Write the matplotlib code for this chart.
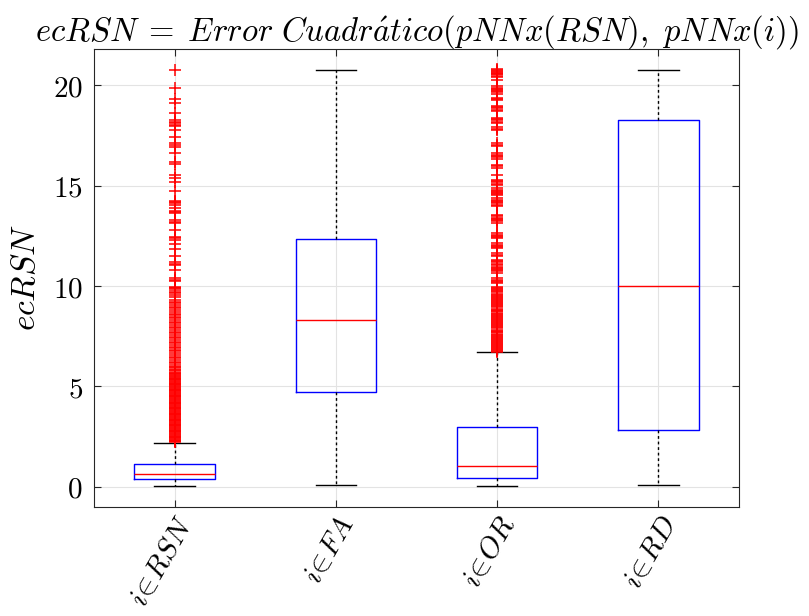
import matplotlib
matplotlib.use('Agg')
import matplotlib.pyplot as plt

plt.rcParams['mathtext.fontset'] = 'cm'

grupos = [r'$i\!\in\! RSN$', r'$i\!\in\! FA$', r'$i\!\in\! OR$', r'$i\!\in\! RD$']

# estadisticos de cada caja
medianas = [0.65, 8.31, 1.04, 10.02]
q1 = [0.38, 4.71, 0.46, 2.82]
q3 = [1.13, 12.35, 2.97, 18.26]
bigote_inf = [0.03, 0.08, 0.03, 0.10]
bigote_sup = [2.19, 20.73, 6.70, 20.73]

# valores atipicos
atip_rsn = [20.73, 19.87, 19.29, 19.09, 18.61, 18.24, 18.16, 18.09, 18.02, 17.96,
            17.76, 17.43, 17.10, 17.02, 16.93, 16.60, 16.17, 16.05, 15.52, 15.36,
            15.19, 14.74, 14.23, 14.17, 14.11, 14.03, 13.86, 13.75, 13.70, 13.62,
            13.28, 13.20, 13.12, 12.79, 12.45, 12.37, 12.29, 12.09, 11.83, 11.49,
            11.18, 11.10, 11.04, 10.80, 10.38, 10.32, 10.26, 9.97, 9.92, 9.88,
            9.80, 9.72, 9.64, 9.55, 9.47, 9.30, 9.22, 9.14, 9.05, 8.97, 8.89,
            8.80, 8.72, 8.60, 8.55, 8.47, 8.39, 8.31, 8.22, 8.14, 8.06, 7.98,
            7.90, 7.81, 7.72, 7.65, 7.56, 7.48, 7.40, 7.31, 7.23, 7.15, 7.07,
            6.98, 6.90, 6.82, 6.74, 6.65, 6.57, 6.48, 6.40, 6.31, 6.23, 6.15,
            6.07, 5.99, 5.96, 5.88, 5.82, 5.75, 5.69, 5.65, 5.61,
            5.56, 5.52, 5.48, 5.44, 5.39, 5.35, 5.31, 5.27, 5.22, 5.18, 5.14,
            5.10, 5.05, 5.01, 4.97, 4.93, 4.88, 4.84, 4.80, 4.76, 4.71, 4.67,
            4.63, 4.59, 4.54, 4.50, 4.46, 4.42, 4.37, 4.33, 4.29, 4.25, 4.20,
            4.16, 4.12, 4.08, 4.03, 3.99, 3.95, 3.91, 3.86, 3.82, 3.78, 3.74,
            3.69, 3.65, 3.61, 3.57, 3.52, 3.48, 3.44, 3.40, 3.35, 3.31, 3.27,
            3.23, 3.18, 3.14, 3.10, 3.06, 3.01, 2.97, 2.93, 2.89, 2.84, 2.80,
            2.76, 2.72, 2.67, 2.63, 2.59, 2.55, 2.50, 2.46, 2.42, 2.38, 2.33,
            2.29, 2.26, 2.22]
atip_fa = []
atip_or = [20.78, 20.74, 20.70, 20.66, 20.61, 20.57, 20.53, 20.47, 20.42, 20.28,
           19.95, 19.88, 19.82, 19.76, 19.70, 19.64, 19.58, 19.37, 19.31, 19.25,
           18.95, 18.90, 18.84, 18.78, 18.71, 18.38, 18.32, 18.26, 18.18, 18.09,
           17.90, 17.83, 17.76, 17.10, 17.03, 16.97, 16.60, 16.53, 16.47, 16.40,
           16.32, 16.02, 15.95, 15.89, 15.52, 15.28, 15.22, 15.16, 15.09, 15.03,
           14.86, 14.80, 14.74, 14.68, 14.61, 14.57, 14.53, 14.36, 14.30, 14.24,
           14.17, 14.11, 14.05, 13.99, 13.53, 13.47, 13.41, 13.35, 13.28, 13.22,
           13.16, 12.62, 12.56, 12.50, 12.43, 12.37, 12.12, 12.05, 11.99, 11.93,
           11.87, 11.62, 11.56, 11.49, 11.29, 11.23, 11.18, 11.11, 11.04, 10.97,
           10.91, 10.85, 10.80, 10.73, 10.66, 10.38, 10.32, 10.26, 10.19, 10.13,
           9.95, 9.88, 9.83, 9.78, 9.73, 9.69, 9.62, 9.57, 9.51, 9.46, 9.41, 9.37,
           9.30, 9.25, 9.20, 9.16, 9.10, 9.04, 8.99, 8.95, 8.88, 8.83, 8.78,
           8.74, 8.67, 8.62, 8.57, 8.53, 8.46, 8.41, 8.36, 8.32, 8.25, 8.20,
           8.15, 8.11, 8.04, 7.99, 7.94, 7.90, 7.83, 7.78, 7.73, 7.69, 7.62,
           7.57, 7.52, 7.48, 7.41, 7.36, 7.31, 7.27, 7.20, 7.15, 7.10, 7.06,
           7.00, 6.94, 6.89, 6.85, 6.80, 6.76, 6.72]
atip_rd = []

atipicos = [atip_rsn, atip_fa, atip_or, atip_rd]

stats = []
for k in range(4):
    stats.append({'med': medianas[k], 'q1': q1[k], 'q3': q3[k],
                  'whislo': bigote_inf[k], 'whishi': bigote_sup[k],
                  'fliers': atipicos[k], 'label': grupos[k]})

fig = plt.figure(figsize=(8.09, 6.16), dpi=100)
ax = fig.add_axes([0.1162, 0.177, 0.7973, 0.7435])

ax.bxp(stats, positions=[1, 2, 3, 4], widths=0.5,
       boxprops=dict(color='blue', linewidth=1.0),
       medianprops=dict(color='red', linewidth=1.0),
       whiskerprops=dict(color='black', linewidth=1.0, linestyle=(0, (2, 2))),
       capprops=dict(color='black', linewidth=1.0),
       flierprops=dict(marker='+', markeredgecolor='red', markersize=9,
                       markeredgewidth=1.1, linestyle='none'),
       zorder=3)

ax.set_xlim(0.5, 4.5)
ax.set_ylim(-1.0, 21.8)
ax.set_yticks([0, 5, 10, 15, 20])
ax.set_yticklabels([r'$0$', r'$5$', r'$10$', r'$15$', r'$20$'], fontsize=21)
ax.set_xticks([1, 2, 3, 4])
ax.set_xticklabels(grupos, fontsize=21, rotation=60, ha='right', rotation_mode='anchor')

ax.grid(True, color='#e3e3e3', linewidth=0.8, zorder=0)
ax.set_axisbelow(True)
ax.tick_params(direction='in', top=True, right=True, length=5, width=0.8, color='#262626')
ax.tick_params(axis='y', pad=8)
for s in ax.spines.values():
    s.set_color('#262626')
    s.set_linewidth(0.8)

ax.set_ylabel(r'$ecRSN$', fontsize=24, labelpad=8)
ax.set_title(r'$ecRSN\;=\;Error\ Cuadr\acute{a}tico(pNNx(RSN),\ pNNx(i))$', fontsize=23.5, pad=6)

fig.savefig('out.png', dpi=100)
